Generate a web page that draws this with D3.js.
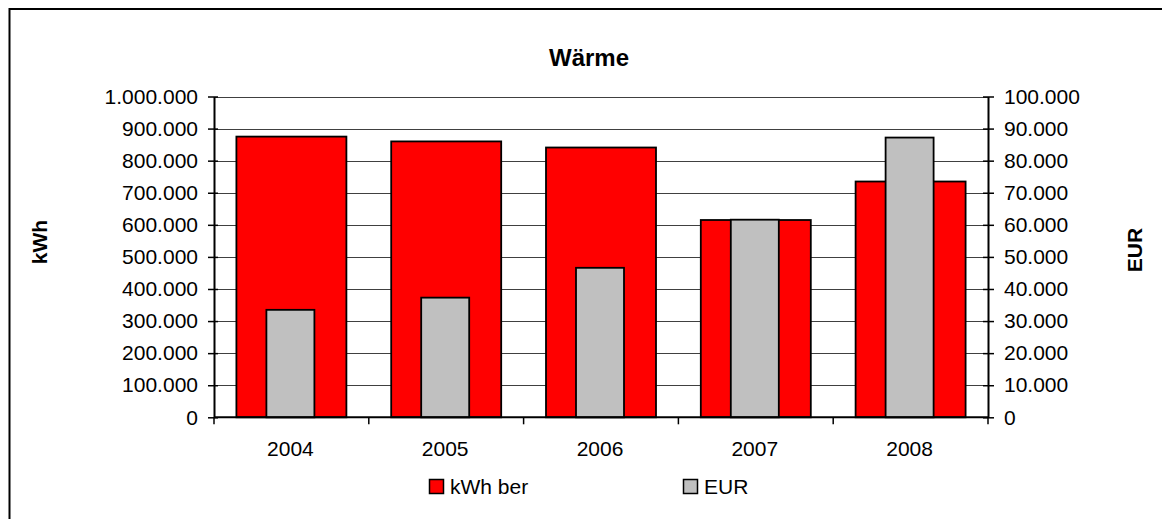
<!DOCTYPE html>
<html lang="de">
  <head>
    <meta charset="utf-8">
    <title>Wärme</title>
    <script src="https://cdnjs.cloudflare.com/ajax/libs/d3/7.8.5/d3.min.js"></script>
    <style>
      body {
        margin: 0;
        background: #fff;
      }
      svg text {
        font-family: Arial, "Liberation Sans", sans-serif;
        fill: #000;
      }
      .tick-label {
        font-size: 21px;
      }
      .grid line {
        stroke: #404040;
        stroke-width: 1px;
      }
    </style>
  </head>
  <body>
    <div id="vis"></div>
<script>
    // chart data
    var years = ['2004', '2005', '2006', '2007', '2008'];
    var kwhValues = [875000, 860000, 841000, 615000, 735000];
    var eurValues = [33500, 37300, 46600, 61600, 87200];
    var kwhTicks = [0, 100000, 200000, 300000, 400000, 500000, 600000, 700000, 800000, 900000, 1000000];
    var eurTicks = [0, 10000, 20000, 30000, 40000, 50000, 60000, 70000, 80000, 90000, 100000];
    var seriesNames = ['kWh ber', 'EUR'];

    var width = 1162;
    var height = 519;

    var plot = { left: 214, right: 988, top: 96.5, bottom: 417.3 };

    var de = d3.formatLocale({ decimal: ',', thousands: '.', grouping: [3], currency: ['', ' €'] });
    var fmt = de.format(',d');

    var svg = d3.select('#vis')
        .append('svg')
        .attr('width', width)
        .attr('height', height);

    // outer chart border (runs off the right / bottom edge like the original)
    svg.append('rect')
        .attr('x', 9.5)
        .attr('y', 9)
        .attr('width', 1300)
        .attr('height', 700)
        .attr('fill', '#fff')
        .attr('stroke', '#000')
        .attr('stroke-width', 2);

    var x_scale = d3.scaleBand()
        .domain(years)
        .range([plot.left, plot.right]);

    var y_left = d3.scaleLinear()
        .domain([0, 1000000])
        .range([plot.bottom, plot.top]);

    var y_right = d3.scaleLinear()
        .domain([0, 100000])
        .range([plot.bottom, plot.top]);

    // gridlines
    svg.append('g')
        .attr('class', 'grid')
        .selectAll('line')
        .data(kwhTicks.slice(1))
        .enter()
        .append('line')
        .attr('x1', plot.left)
        .attr('x2', plot.right)
        .attr('y1', function(d) { return Math.round(y_left(d)) + 0.5; })
        .attr('y2', function(d) { return Math.round(y_left(d)) + 0.5; });

    // red bars (kWh, left axis)
    var redW = 110;
    svg.append('g')
        .selectAll('rect')
        .data(kwhValues)
        .enter()
        .append('rect')
        .attr('x', function(d, i) { return x_scale(years[i]) + x_scale.bandwidth() / 2 - redW / 2; })
        .attr('y', function(d) { return y_left(d); })
        .attr('width', redW)
        .attr('height', function(d) { return plot.bottom - y_left(d); })
        .attr('fill', '#ff0000')
        .attr('stroke', '#000')
        .attr('stroke-width', 1.8);

    // grey bars (EUR, right axis)
    var greyW = 48;
    svg.append('g')
        .selectAll('rect')
        .data(eurValues)
        .enter()
        .append('rect')
        .attr('x', function(d, i) { return x_scale(years[i]) + x_scale.bandwidth() / 2 - greyW / 2 - 1; })
        .attr('y', function(d) { return y_right(d); })
        .attr('width', greyW)
        .attr('height', function(d) { return plot.bottom - y_right(d); })
        .attr('fill', '#c0c0c0')
        .attr('stroke', '#000')
        .attr('stroke-width', 1.8);

    // left axis
    var left_axis = d3.axisLeft(y_left)
        .tickValues(kwhTicks)
        .tickFormat(fmt)
        .tickSizeInner(6)
        .tickSizeOuter(0)
        .tickPadding(10);

    var gl = svg.append('g')
        .attr('transform', 'translate(' + plot.left + ',0)')
        .call(left_axis);
    gl.select('.domain').attr('stroke', '#000').attr('stroke-width', 2);
    gl.selectAll('.tick line').attr('x2', -6).attr('x1', 4).attr('stroke-width', 1.5);
    gl.selectAll('.tick text').attr('class', 'tick-label').attr('font-size', null).attr('font-family', null);

    // right axis
    var right_axis = d3.axisRight(y_right)
        .tickValues(eurTicks)
        .tickFormat(fmt)
        .tickSizeInner(6)
        .tickSizeOuter(0)
        .tickPadding(10);

    var gr = svg.append('g')
        .attr('transform', 'translate(' + plot.right + ',0)')
        .call(right_axis);
    gr.select('.domain').attr('stroke', '#000').attr('stroke-width', 2);
    gr.selectAll('.tick line').attr('x1', -5).attr('x2', 6).attr('stroke-width', 1.5);
    gr.selectAll('.tick text').attr('class', 'tick-label').attr('font-size', null).attr('font-family', null);

    // x axis with ticks between categories
    var gx = svg.append('g')
        .attr('transform', 'translate(0,' + plot.bottom + ')');
    gx.append('line')
        .attr('x1', plot.left)
        .attr('x2', plot.right)
        .attr('stroke', '#000')
        .attr('stroke-width', 2);
    var edges = years.map(function(y) { return x_scale(y); }).concat([plot.right]);
    gx.selectAll('.xtick')
        .data(edges)
        .enter()
        .append('line')
        .attr('class', 'xtick')
        .attr('x1', function(d) { return d; })
        .attr('x2', function(d) { return d; })
        .attr('y1', 0)
        .attr('y2', 7)
        .attr('stroke', '#000')
        .attr('stroke-width', 1.5);
    gx.selectAll('.xlabel')
        .data(years)
        .enter()
        .append('text')
        .attr('class', 'tick-label')
        .attr('x', function(d) { return x_scale(d) + x_scale.bandwidth() / 2 - 1; })
        .attr('y', 39)
        .attr('text-anchor', 'middle')
        .text(function(d) { return d; });

    // title
    svg.append('text')
        .attr('x', 589)
        .attr('y', 66)
        .attr('text-anchor', 'middle')
        .attr('font-size', '24px')
        .attr('font-weight', 'bold')
        .text('Wärme');

    // axis titles
    svg.append('text')
        .attr('transform', 'translate(47,242) rotate(-90)')
        .attr('text-anchor', 'middle')
        .attr('font-size', '21px')
        .attr('font-weight', 'bold')
        .text('kWh');

    svg.append('text')
        .attr('transform', 'translate(1142,250) rotate(-90)')
        .attr('text-anchor', 'middle')
        .attr('font-size', '21px')
        .attr('font-weight', 'bold')
        .text('EUR');

    // legend
    var legendX = [429, 683];
    var legendColors = ['#ff0000', '#c0c0c0'];
    var legend = svg.append('g')
        .selectAll('g')
        .data(seriesNames)
        .enter()
        .append('g')
        .attr('transform', function(d, i) { return 'translate(' + legendX[i] + ',479)'; });
    legend.append('rect')
        .attr('x', 0.5)
        .attr('y', 0.5)
        .attr('width', 14)
        .attr('height', 14)
        .attr('fill', function(d, i) { return legendColors[i]; })
        .attr('stroke', '#000')
        .attr('stroke-width', 1.5);
    legend.append('text')
        .attr('class', 'tick-label')
        .attr('x', 21)
        .attr('y', 14.5)
        .text(function(d) { return d; });
</script>
  </body>
</html>
